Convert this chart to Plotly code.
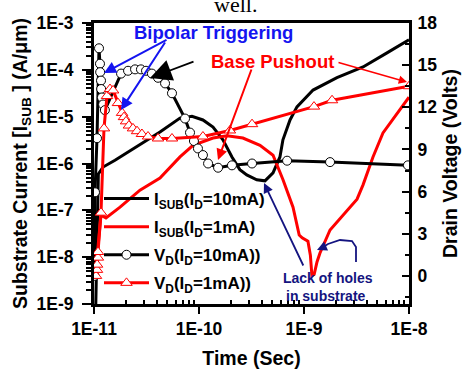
import plotly.graph_objects as go

# ---------------- data ----------------
t_isub10 = [1.00e-11, 1.04e-11, 1.10e-11, 1.22e-11, 1.585e-11, 2.74e-11, 4.25e-11, 6.59e-11,
            8.57e-11, 1.09e-10, 1.36e-10, 1.69e-10, 2.06e-10, 2.45e-10, 2.85e-10, 3.55e-10,
            4.25e-10, 5.07e-10, 5.9e-10, 6.3e-10, 7.36e-10, 8.57e-10, 1.22e-9, 2.06e-9,
            3.65e-9, 6.17e-9, 1.0e-8]
i_isub10 = [3e-10, 1e-9, 6e-7, 8.4e-7, 1.17e-6, 2.48e-6, 4.7e-6, 9.3e-6,
            1.02e-5, 8.5e-6, 6.0e-6, 3.2e-6, 1.38e-6, 7.4e-7, 5.7e-7, 4.5e-7,
            4.27e-7, 6.3e-7, 1.38e-6, 3.2e-6, 8.5e-6, 1.62e-5, 3.7e-5, 6.8e-5,
            1.15e-4, 2.3e-4, 4.4e-4]

t_isub1 = [1.03e-11, 1.068e-11, 1.166e-11, 1.30e-11, 1.77e-11, 2.74e-11, 4.25e-11, 6.59e-11,
           8.77e-11, 1.36e-10, 1.85e-10, 2.62e-10, 3.81e-10, 5.07e-10, 6.31e-10, 7.86e-10,
           9.0e-10, 9.6e-10, 1.09e-9, 1.15e-9, 1.19e-9, 1.25e-9, 1.33e-9, 1.42e-9,
           1.77e-9, 2.57e-9, 3.2e-9, 3.65e-9, 4.54e-9, 5.65e-9, 7.69e-9, 1.0e-8]
i_isub1 = [8e-9, 1.0e-8, 7.9e-8, 6.9e-8, 1.17e-7, 2.7e-7, 4.9e-7, 1.38e-6,
           2.45e-6, 3.5e-6, 3.9e-6, 3.5e-6, 2.45e-6, 1.5e-6, 4.5e-7, 1.17e-7,
           2.97e-8, 2.6e-8, 2.2e-8, 1.1e-8, 4.0e-9, 4.3e-9, 7.9e-9, 1.23e-8,
           3.8e-8, 1.02e-7, 1.73e-7, 3.5e-7, 1.38e-6, 4.5e-6, 1.2e-5, 2.6e-5]

t_vd10 = [1.01e-11, 1.022e-11, 1.068e-11, 1.116e-11, 1.14e-11, 1.145e-11, 1.166e-11, 1.17e-11,
          1.19e-11, 1.22e-11, 1.27e-11, 1.81e-11, 2.11e-11, 2.46e-11, 2.80e-11, 3.13e-11,
          3.56e-11, 4.07e-11, 4.75e-11, 5.53e-11, 7.36e-11, 8.21e-11, 8.95e-11, 9.77e-11,
          1.09e-10, 1.22e-10, 1.52e-10, 2.06e-10, 3.2e-10, 6.9e-10, 1.77e-9, 9.77e-9]
v_vd10 = [0.0, 5.95, 9.8, 16.2, 15.1, 14.5, 13.9, 13.3,
          12.7, 12.2, 11.8, 14.4, 14.6, 14.7, 14.7, 14.6,
          14.4, 14.1, 13.7, 13.0, 11.2, 10.2, 9.6, 9.07,
          8.6, 8.0, 7.7, 7.87, 8.0, 8.2, 8.1, 7.87]

t_vd1 = [1.045e-11, 1.068e-11, 1.07e-11, 1.09e-11, 1.092e-11, 1.166e-11, 1.245e-11, 1.33e-11,
         1.42e-11, 1.52e-11, 1.69e-11, 1.85e-11, 1.93e-11, 2.02e-11, 2.15e-11, 2.35e-11,
         2.57e-11, 2.86e-11, 3.27e-11, 4.07e-11, 5.53e-11, 1.09e-10, 1.97e-10, 3.2e-10,
         1.245e-9, 1.85e-9, 1.0e-8]
v_vd1 = [0.0, 0.43, 0.8, 1.3, 1.7, 4.5, 10.5, 12.8,
         13.3, 13.2, 12.3, 11.6, 11.3, 11.0, 10.7, 10.5,
         10.3, 10.1, 9.92, 9.78, 9.78, 9.92, 10.35, 10.8,
         12.05, 12.5, 13.5]

x_tickvals = [1e-11, 1e-10, 1e-9, 1e-8]
x_ticktext = ["1E-11", "1E-10", "1E-9", "1E-8"]
y_tickvals = [1e-9, 1e-8, 1e-7, 1e-6, 1e-5, 1e-4, 1e-3]
y_ticktext = ["1E-9", "1E-8", "1E-7", "1E-6", "1E-5", "1E-4", "1E-3"]
y2_tickvals = [0, 3, 6, 9, 12, 15, 18]
y2_minorvals = [-1.5, 1.5, 4.5, 7.5, 10.5, 13.5, 16.5]

x_minor = [k * 10.0 ** e for e in range(-11, -8) for k in range(2, 10)]
y_minor = [k * 10.0 ** e for e in range(-9, -3) for k in range(2, 10)]

FONT = "Liberation Sans"
W, H = 467, 369
L, R, T, B = 94, 409, 23, 304


def px(x, y):
    return (x - L) / (R - L), (B - y) / (B - T)


fig = go.Figure()
fig.add_trace(go.Scatter(x=t_isub10, y=i_isub10, mode="lines",
                         name="I<sub>SUB</sub>(I<sub>D</sub>=10mA)",
                         line=dict(color="black", width=3), legendgroup="g1"))
fig.add_trace(go.Scatter(x=t_isub1, y=i_isub1, mode="lines",
                         name="I<sub>SUB</sub>(I<sub>D</sub>=1mA)",
                         line=dict(color="#ff0000", width=3), legendgroup="g2"))
fig.add_trace(go.Scatter(x=t_vd10, y=v_vd10, mode="lines+markers", yaxis="y2",
                         name="V<sub>D</sub>(I<sub>D</sub>=10mA))",
                         line=dict(color="black", width=3),
                         marker=dict(symbol="circle", size=9, color="white",
                                     line=dict(color="black", width=1)),
                         legendgroup="g3"))
fig.add_trace(go.Scatter(x=t_vd1, y=v_vd1, mode="lines+markers", yaxis="y2",
                         name="V<sub>D</sub>(I<sub>D</sub>=1mA))",
                         line=dict(color="#ff0000", width=3),
                         marker=dict(symbol="triangle-up", size=10, color="white",
                                     line=dict(color="#ff0000", width=1)),
                         legendgroup="g4"))

tickfont = dict(family=FONT, size=17.5, color="black", weight="bold")
titlefont = dict(family=FONT, size=19.5, color="black", weight="bold")

fig.update_layout(
    width=W, height=H,
    margin=dict(l=L, r=W - R, t=T, b=H - B, autoexpand=False),
    paper_bgcolor="white", plot_bgcolor="white",
    showlegend=True,
    legend=dict(x=px(99, 0)[0], y=px(0, 181)[1], xanchor="left", yanchor="top",
                bgcolor="rgba(0,0,0,0)", tracegroupgap=3, itemwidth=45,
                font=dict(family=FONT, size=17, color="black", weight="bold")),
    xaxis=dict(type="log", range=[-11, -8], tickvals=x_tickvals, ticktext=x_ticktext,
               automargin=False,
               ticks="outside", ticklen=7, tickwidth=2, tickcolor="black",
               showline=True, linewidth=3, linecolor="black", mirror=True,
               showgrid=False, zeroline=False, tickfont=tickfont,
               minor=dict(tickvals=x_minor, ticks="inside", ticklen=4, tickwidth=1.5,
                          tickcolor="black", showgrid=False),
               title=dict(text="Time (Sec)", font=titlefont, standoff=14)),
    yaxis=dict(type="log", range=[-9, -3], tickvals=y_tickvals, ticktext=y_ticktext,
               automargin=False,
               ticks="outside", ticklen=9, tickwidth=2, tickcolor="black",
               showline=True, linewidth=3, linecolor="black",
               showgrid=False, zeroline=False, tickfont=tickfont, ticklabelstandoff=5,
               minor=dict(tickvals=y_minor, ticks="outside", ticklen=5, tickwidth=1.5,
                          tickcolor="black", showgrid=False),
               title=dict(text="Substrate Current [I<sub>SUB</sub> ] (A/\u03bcm)",
                          font=titlefont, standoff=4)),
    yaxis2=dict(overlaying="y", side="right", range=[-2, 18], tickvals=y2_tickvals,
                automargin=False,
                ticks="inside", ticklen=7, tickwidth=2, tickcolor="black",
                showline=True, linewidth=3, linecolor="black",
                showgrid=False, zeroline=False, tickfont=tickfont, ticklabelstandoff=2,
                minor=dict(tickvals=y2_minorvals, ticks="inside", ticklen=4, tickwidth=1.5,
                           tickcolor="black", showgrid=False),
                title=dict(text="Drain Voltage (Volts)", font=titlefont, standoff=8)),
)

BLUE = "#1414f0"
RED = "#ff0000"
NAVY = "#141480"

anns = []


def arrow(tail, head, color, width=1.5, size=1.0, headstyle=2):
    hx, hy = px(*head)
    anns.append(dict(xref="paper", yref="paper", x=hx, y=hy, ax=tail[0] - head[0],
                     ay=tail[1] - head[1], axref="pixel", ayref="pixel", text="",
                     showarrow=True, arrowhead=headstyle, arrowsize=size,
                     arrowwidth=width, arrowcolor=color))


def label(text, center, color, size):
    cx, cy = px(*center)
    anns.append(dict(xref="paper", yref="paper", x=cx, y=cy, xanchor="center",
                     yanchor="middle", text=text, showarrow=False,
                     font=dict(family=FONT, size=size, color=color, weight="bold")))


label("Bipolar Triggering", (213, 32), BLUE, 18.5)
arrow((168, 39), (104, 73), BLUE, 2, 1.2)
arrow((166, 41), (121, 110), BLUE, 2, 1.2)
arrow((195, 61), (150, 78), "black", 1.8, 2.4)
label("Base Pushout", (272, 61), RED, 18.5)
arrow((252, 68), (218, 160), RED, 2, 1.1)
arrow((337, 62), (407, 82), RED, 1.5, 1.1)
label("Lack of holes", (328, 278), NAVY, 14)
label("in substrate", (326, 296), NAVY, 14)
arrow((304, 267), (264, 183), NAVY, 1.8, 1.1)
arrow((326, 246), (317, 250), NAVY, 1.8, 1.1)

# top cropped text from the page
wx, wy = px(235, 19)
anns.append(dict(xref="paper", yref="paper", x=wx, y=wy, xanchor="center", yanchor="bottom",
                 text="well.", showarrow=False,
                 font=dict(family="Liberation Serif", size=22, color="black")))

fig.update_layout(annotations=anns)

# curved navy arrow body
pts = [(356, 262), (356, 247), (352, 241), (340, 240), (328, 244), (320, 249)]
ppts = [px(*p) for p in pts]
path = "M {} {}".format(*ppts[0]) + "".join(" L {} {}".format(*p) for p in ppts[1:])
fig.add_shape(type="path", xref="paper", yref="paper", path=path,
              line=dict(color=NAVY, width=1.8))

fig.write_html("out.html")
